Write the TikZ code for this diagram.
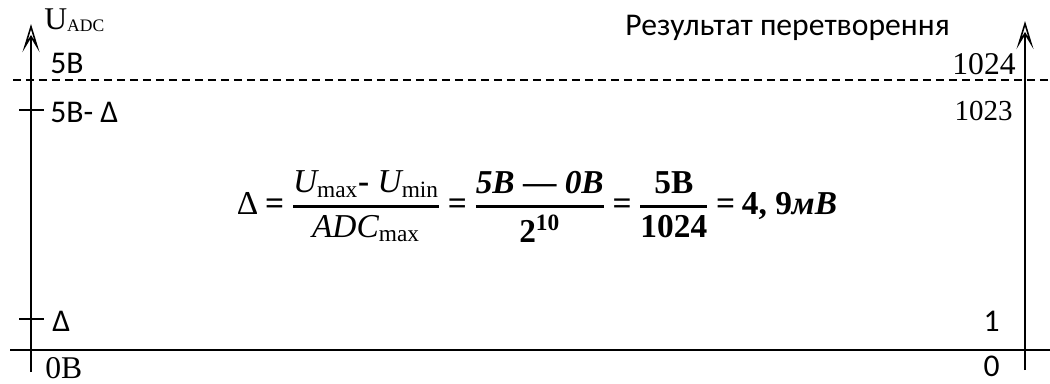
\documentclass[tikz,border=0pt]{standalone}
\usepackage{amsmath}
\usepackage{fontspec}
\setmainfont{Liberation Serif}
\newfontfamily\labelfont{Carlito}
\usetikzlibrary{arrows.meta}
\newcommand{\eqsign}{\mskip4mu\text{=}\mskip4mu}

\begin{document}
\begin{tikzpicture}[x=0.02cm, y=-0.02cm,
  axis/.style={line width=1.1pt, -{Stealth[open, length=5.6mm, width=3.4mm, inset=2.8mm, line width=0.9pt]}},
  tick/.style={line width=1.1pt},
  level/.style={line width=0.7pt, dash pattern=on 0.16cm off 0.1cm},
  sanslbl/.style={font=\labelfont\fontsize{18}{21}\selectfont, inner sep=0pt},
  seriflbl/.style={font=\fontsize{18}{21}\selectfont, inner sep=0pt}
]
  \useasboundingbox (0,0) rectangle (1050,383);
  % axis ends
  \coordinate (lbot) at (31,372);
  \coordinate (ltop) at (31,24);
  \coordinate (rbot) at (1025,370);
  \coordinate (rtop) at (1025,21);
  \coordinate (zleft) at (10,350);
  \coordinate (zright) at (1050,350);
  \coordinate (dleft) at (13,80);
  \coordinate (dright) at (1050,80);
  \coordinate (t1a) at (19,110);
  \coordinate (t1b) at (44,110);
  \coordinate (t2a) at (19,319);
  \coordinate (t2b) at (44,319);
  % axes and levels
  \draw[axis] (lbot) -- (ltop);
  \draw[axis] (rbot) -- (rtop);
  \draw[tick] (zleft) -- (zright);
  \draw[level] (dleft) -- (dright);
  \draw[tick] (t1a) -- (t1b);
  \draw[tick] (t2a) -- (t2b);
  % left labels
  \node[seriflbl, anchor=west] (uadc) at (44,20) {U\raisebox{-1pt}{\fontsize{10}{11}\selectfont ADC}};
  \node[sanslbl, anchor=west] (v5) at (50,63) {5B};
  \node[sanslbl, anchor=west] (v5d) at (50,112) {5B- Δ};
  \node[sanslbl, anchor=west] (vd) at (52,321) {Δ};
  \node[seriflbl, anchor=west] (v0) at (45,368) {0B};
  % right labels
  \node[sanslbl, anchor=east] (title) at (950,28) {Результат перетворення};
  \node[seriflbl, anchor=east] (n1024) at (1016,64) {1024};
  \node[seriflbl, font=\fontsize{16.5}{19}\selectfont, anchor=east] (n1023) at (1013,111) {1023};
  \node[sanslbl, anchor=east] (n1) at (1000,321) {1};
  \node[sanslbl, anchor=east] (n0) at (1000,366) {0};
  % formula
  \node[font=\fontsize{19}{23}\selectfont\bfseries] (formula) at (537,207)
    {$\text{\mdseries Δ} \eqsign
      \genfrac{}{}{1.4pt}{0}{\textit{\mdseries U}_{\text{\mdseries max}}\text{- }\textit{\mdseries U}_{\text{\mdseries min}}}{\textit{\mdseries ADC}_{\text{\mdseries max}}}
      \eqsign
      \genfrac{}{}{1.4pt}{0}{\textit{5B}\text{ --- }\textit{0B}}{\text{2}^{\text{10}}}
      \eqsign
      \genfrac{}{}{1.4pt}{0}{\text{5B}}{\text{1024}}
      \eqsign \text{4, 9\textit{мВ}}$};
\end{tikzpicture}
\end{document}
